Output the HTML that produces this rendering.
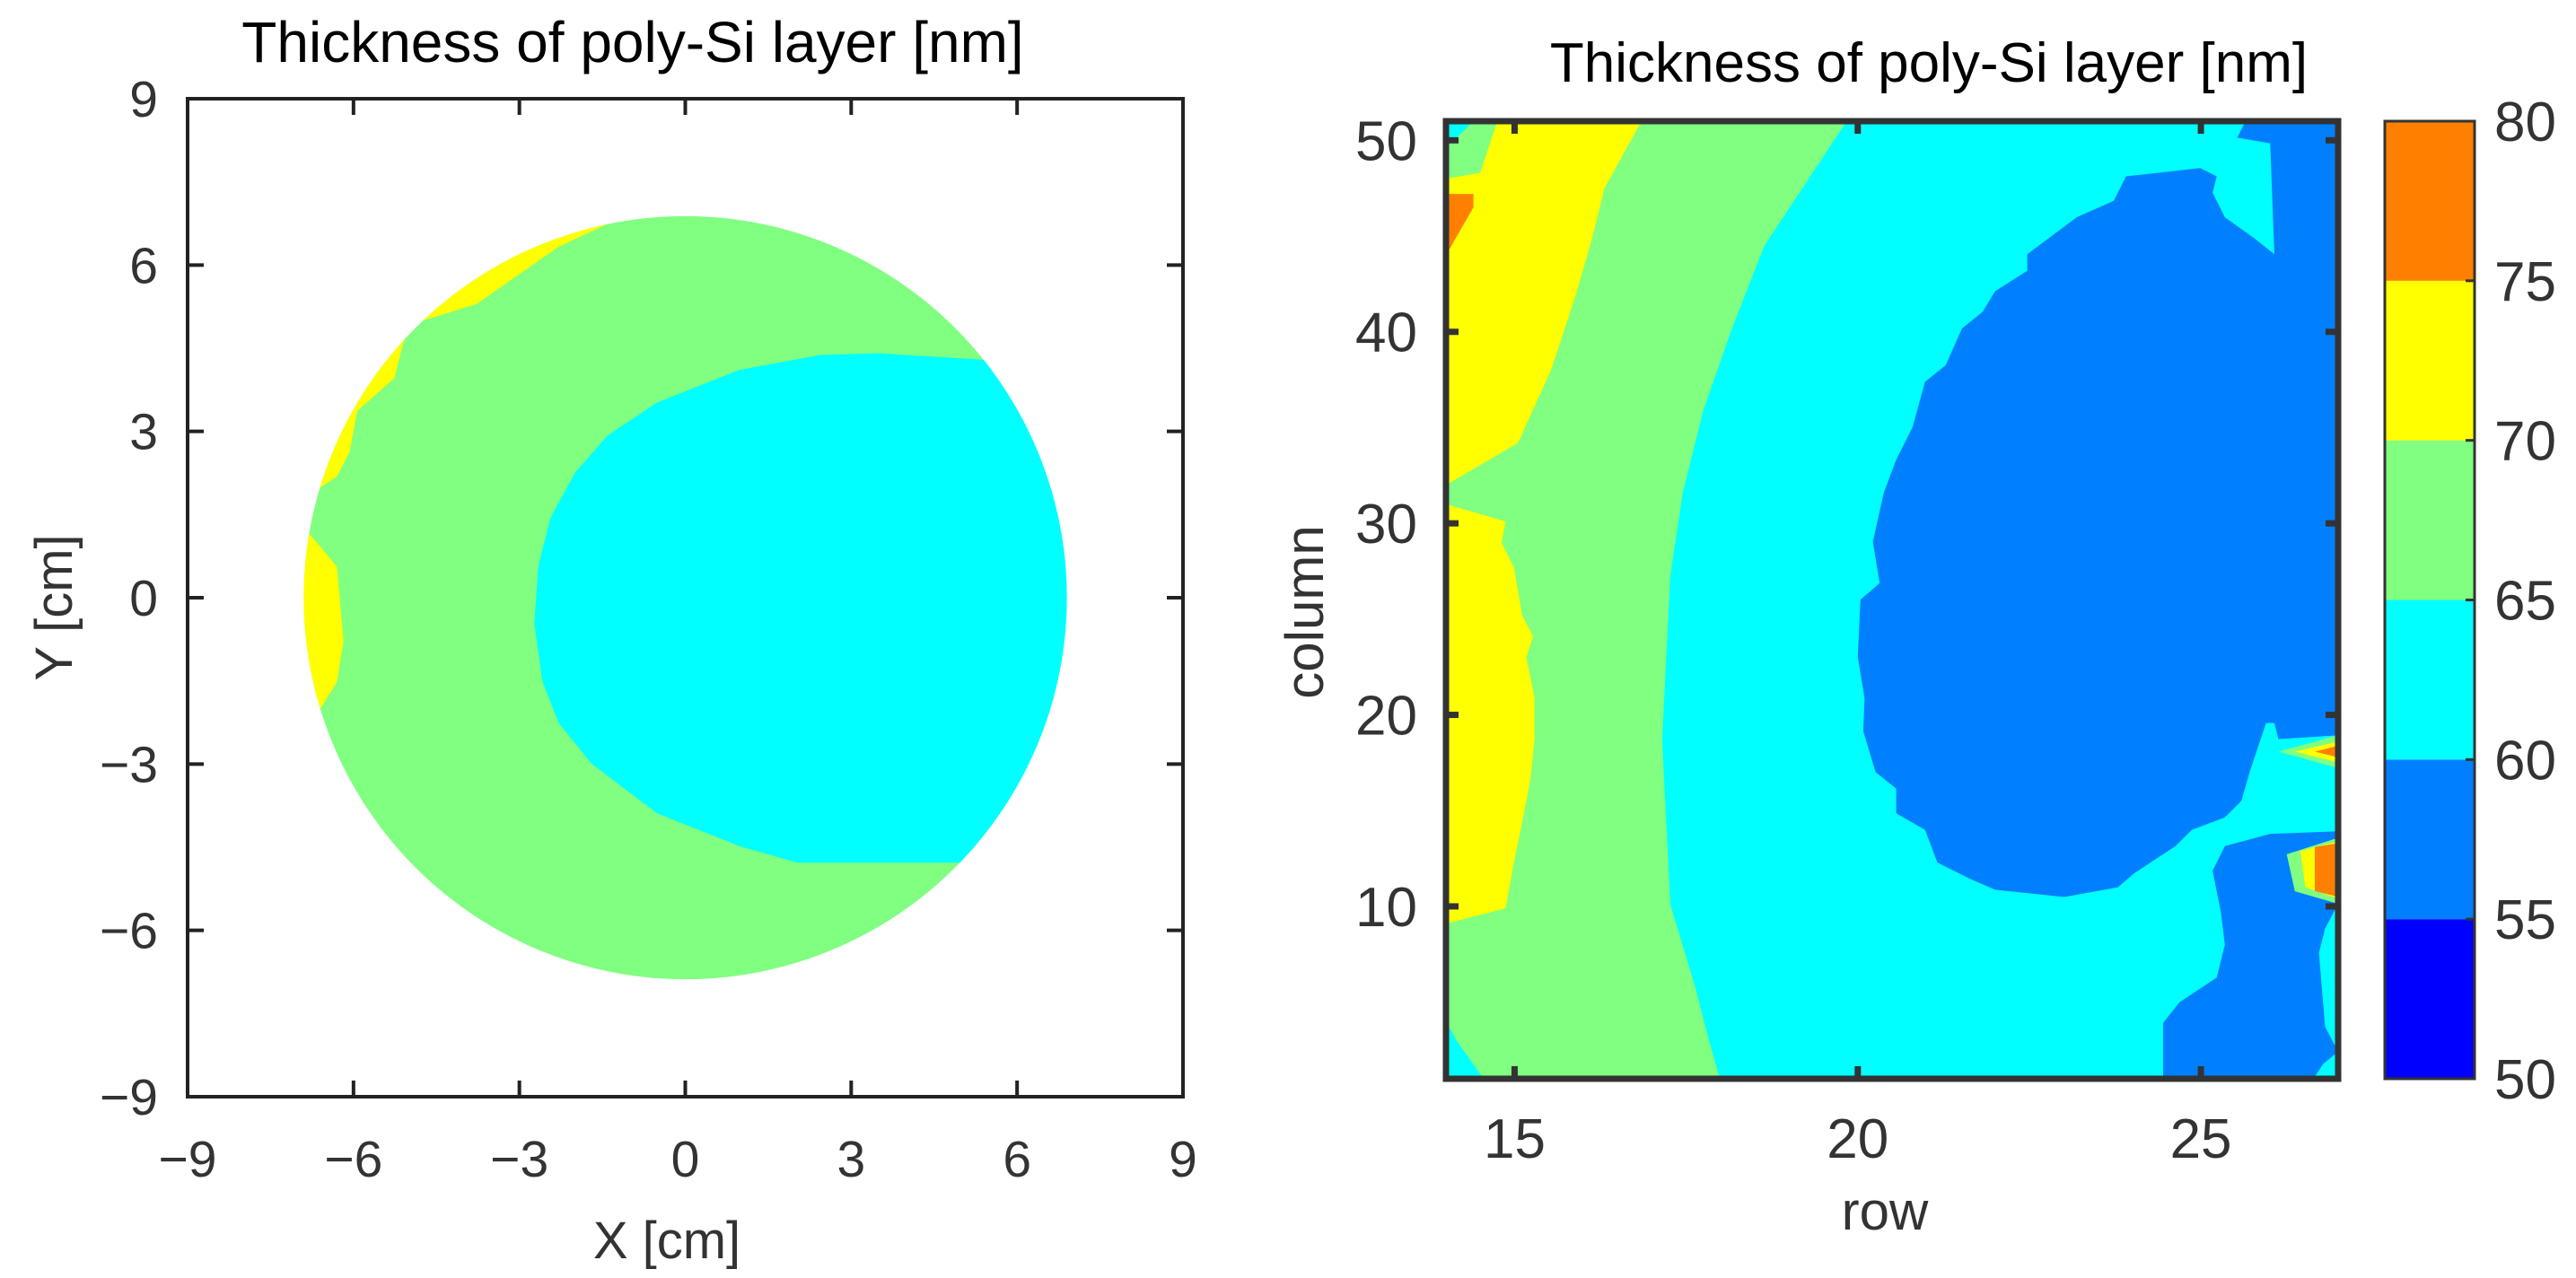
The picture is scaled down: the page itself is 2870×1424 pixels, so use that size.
<!DOCTYPE html>
<html><head><meta charset="utf-8"><style>
html,body{margin:0;padding:0;background:#fff;}
svg{display:block;font-family:"Liberation Sans",sans-serif;}
</style></head><body>
<svg id="s" width="2870" height="1424" viewBox="0 0 2870 1424">
<g id="left"></g>
<g id="right"></g>
</svg>
<script>
// ---------- LEFT CHART DATA (cm) ----------
const leftTicks = [-9,-6,-3,0,3,6,9];
const waferRadius = [6.9];
const cyanRegion = [[5.44,4.29],[3.50,4.41],[2.46,4.38],[0.98,4.11],[-0.51,3.52],[-1.40,2.93],[-1.99,2.26],[-2.44,1.44],[-2.66,0.56],[-2.73,-0.48],[-2.58,-1.52],[-2.29,-2.26],[-1.69,-3.0],[-0.51,-3.89],[0.98,-4.48],[2.02,-4.78],[4.99,-4.78],[9,-4.78],[9,4.29]];
const yellowTop = [[-1.17,6.85],[-2.29,6.33],[-3.77,5.30],[-4.96,4.93],[-5.11,4.56],[-5.26,3.96],[-5.93,3.37],[-6.07,2.63],[-6.30,2.19],[-6.74,1.89],[-9,1.89],[-9,9],[-1.17,9]];
const yellowLeft = [[-9,1.4],[-6.92,1.30],[-6.30,0.56],[-6.18,-0.78],[-6.30,-1.52],[-6.67,-2.11],[-9,-2.11]];

// ---------- RIGHT CHART DATA (row, column) ----------
const rowTicks = [15,20,25];
const colTicks = [10,20,30,40,50];
const cbTicks = [50,55,60,65,70,75,80];
const cbColors = ['#0000FF','#0080FF','#00FFFF','#80FF80','#FFFF00','#FF8000'];
const greenCyanBoundary = [[19.84,51],[18.64,44.5],[18.17,40.2],[17.75,35.9],[17.45,31.6],[17.27,27.3],[17.21,23.0],[17.15,18.7],[17.21,14.4],[17.27,10.1],[17.63,5.8],[17.81,3.3],[17.99,1]];
const yellowUpper = [[14.75,51],[16.85,51],[16.31,47.5],[16.13,44.9],[15.89,41.9],[15.53,38.0],[15.05,34.2],[14,32],[14,48],[14.5,48.3]];
const orangeTopLeft = [[14,44],[14.4,46.5],[14.4,47.2],[14,47.2]];
const yellowLower = [[14,31],[14.87,30.1],[14.81,29.0],[14.99,27.7],[15.11,25.2],[15.27,24.1],[15.17,23.0],[15.29,20.9],[15.29,18.7],[15.23,16.6],[15.11,14.4],[14.99,12.3],[14.87,9.9],[14,9.1]];
const cyanTopLeft = [[14,51],[14.4,51],[14,49.6]];
const cyanBottomLeft = [[14,4],[14.15,3],[14.55,1],[14,1]];
const blueBlob = [[25.65,51],[25.53,50.14],[26.01,49.84],[26.07,44.05],[25.77,44.91],[25.35,45.98],[25.17,47.27],[25.23,48.12],[24.99,48.55],[23.91,48.12],[23.73,46.84],[23.19,45.98],[22.47,44.05],[22.47,43.19],[22.00,42.12],[21.82,41.04],[21.52,40.18],[21.28,38.25],[20.98,37.39],[20.80,35.03],[20.56,33.32],[20.38,31.60],[20.22,29.03],[20.32,26.88],[20.04,26.02],[20.00,23.02],[20.10,20.87],[20.08,19.15],[20.26,17.01],[20.56,16.15],[20.56,14.86],[20.98,14.00],[21.16,12.29],[21.64,11.43],[22.00,10.87],[23.01,10.49],[23.79,11.00],[24.03,11.73],[24.63,13.15],[24.87,14.00],[25.35,14.65],[25.59,15.51],[25.71,17.01],[25.95,19.58],[26.07,19.58],[26.13,18.73],[27,18.94],[27,51]];
const blueLower = [[26.01,13.79],[27,13.92],[27,10.14],[26.81,8.85],[26.72,7.57],[26.81,3.70],[27,2.42],[26.78,1.77],[26.64,1],[24.45,1],[24.45,3.92],[24.69,5.0],[25.23,6.28],[25.35,8.0],[25.29,9.71],[25.17,11.86],[25.35,13.15]];
const spike1Green = [[26.13,18.08],[27,18.94],[27,17.22]];
const spike1Yellow = [[26.37,18.08],[27,18.6],[27,17.52]];
const spike1Orange = [[26.66,18.08],[27,18.39],[27,17.78]];
const spike2Green = [[26.25,12.72],[27,13.58],[27,10.14],[26.37,10.79]];
const spike2Yellow = [[26.45,12.9],[27,13.4],[27,10.4],[26.52,11.0]];
const spike2Orange = [[26.66,13.1],[27,13.3],[27,10.5],[26.66,10.8]];

const NS='http://www.w3.org/2000/svg';
function mk(tag, attrs, parent){const e=document.createElementNS(NS,tag);for(const k in attrs)e.setAttribute(k,attrs[k]);parent.appendChild(e);return e;}

// ---------- LEFT ----------
const L=document.getElementById('left');
const lx0=209,lx1=1318,ly0=110,ly1=1222;
const LX=v=>lx0+(v+9)/18*(lx1-lx0);
const LY=v=>ly1-(v+9)/18*(ly1-ly0);
const lpts=a=>a.map(p=>LX(p[0]).toFixed(1)+','+LY(p[1]).toFixed(1)).join(' ');
const defs=mk('defs',{},L);
const cp=mk('clipPath',{id:'wclip'},defs);
mk('circle',{cx:LX(0),cy:LY(0),r:LX(waferRadius[0])-LX(0)},cp);
const wafer=mk('circle',{cx:LX(0),cy:LY(0),r:LX(waferRadius[0])-LX(0),fill:'#80FF80'},L);


const wg=mk('g',{'clip-path':'url(#wclip)'},L);


let e;
e=mk('polygon',{points:lpts(cyanRegion),fill:'#00FFFF'},wg);


e=mk('polygon',{points:lpts(yellowTop),fill:'#FFFF00'},wg);


e=mk('polygon',{points:lpts(yellowLeft),fill:'#FFFF00'},wg);


e=mk('rect',{x:lx0,y:ly0,width:lx1-lx0,height:ly1-ly0,fill:'none',stroke:'#222',"stroke-width":4},L);


leftTicks.forEach(t=>{
  const x=LX(t),y=LY(t);
  mk('line',{x1:x,y1:ly1,x2:x,y2:ly1-18,stroke:'#222','stroke-width':4},L);
  mk('line',{x1:x,y1:ly0,x2:x,y2:ly0+18,stroke:'#222','stroke-width':4},L);
  mk('line',{x1:lx0,y1:y,x2:lx0+18,y2:y,stroke:'#222','stroke-width':4},L);
  mk('line',{x1:lx1,y1:y,x2:lx1-18,y2:y,stroke:'#222','stroke-width':4},L);
  const lab=(t<0?'\u2212'+(-t):''+t);
  const tx=mk('text',{x:x,y:1311,'font-size':57,fill:'#333','text-anchor':'middle'},L);tx.textContent=lab;
  
  
  const ty=mk('text',{x:176,y:y+20,'font-size':57,fill:'#333','text-anchor':'end'},L);ty.textContent=lab;
  
  
});
</script>
<script>
// ---------- RIGHT ----------
const R=document.getElementById('right');
const rx0=1611,rx1=2605,ry0=135,ry1=1202;
const RX=v=>rx0+(v-14)/13*(rx1-rx0);
const RY=v=>ry1-(v-1)/50*(ry1-ry0);
const rpts=a=>a.map(p=>RX(p[0]).toFixed(1)+','+RY(p[1]).toFixed(1)).join(' ');
function poly(arr,fill,name){const p=mk('polygon',{points:rpts(arr),fill:fill},R);return p;}
let r=mk('rect',{x:rx0,y:ry0,width:rx1-rx0,height:ry1-ry0,fill:'#00FFFF'},R);


let gpoly=[[14,51]].concat(greenCyanBoundary).concat([[14,1]]);
r=poly(gpoly,'#80FF80','green-band');

r=poly(yellowUpper,'#FFFF00','yellow-upper');

r=poly(orangeTopLeft,'#FF8000','orange-top-left');

r=poly(yellowLower,'#FFFF00','yellow-lower');

r=poly(cyanTopLeft,'#00FFFF','cyan-top-left');

r=poly(cyanBottomLeft,'#00FFFF','cyan-bottom-left');

r=poly(blueBlob,'#0080FF','blue-blob');

r=poly(blueLower,'#0080FF','blue-lower');

r=poly(spike1Green,'#80FF80','spike1-green');

r=poly(spike1Yellow,'#FFFF00','spike1-yellow');

r=poly(spike1Orange,'#FF8000','spike1-orange');

r=poly(spike2Green,'#80FF80','spike2-green');

r=poly(spike2Yellow,'#FFFF00','spike2-yellow');

r=poly(spike2Orange,'#FF8000','spike2-orange');

r=mk('rect',{x:rx0,y:ry0,width:rx1-rx0,height:ry1-ry0,fill:'none',stroke:'#333','stroke-width':7},R);


rowTicks.forEach(t=>{
  const x=RX(t);
  mk('line',{x1:x,y1:ry1,x2:x,y2:ry1-14,stroke:'#333','stroke-width':7},R);
  mk('line',{x1:x,y1:ry0,x2:x,y2:ry0+14,stroke:'#333','stroke-width':7},R);
  const tx=mk('text',{x:x,y:1290,'font-size':62,fill:'#333','text-anchor':'middle'},R);tx.textContent=t;
  
  
});
colTicks.forEach(t=>{
  const y=RY(t);
  mk('line',{x1:rx0,y1:y,x2:rx0+14,y2:y,stroke:'#333','stroke-width':7},R);
  mk('line',{x1:rx1,y1:y,x2:rx1-14,y2:y,stroke:'#333','stroke-width':7},R);
  const ty=mk('text',{x:1579,y:y+22,'font-size':62,fill:'#333','text-anchor':'end'},R);ty.textContent=t;
  
  
});
// colorbar
const cx0=2657,cx1=2757;
const CY=v=>ry1-(v-50)/30*(ry1-ry0);
cbColors.forEach((c,i)=>{
  const b=mk('rect',{x:cx0,y:CY(cbTicks[i+1]),width:cx1-cx0,height:CY(cbTicks[i])-CY(cbTicks[i+1]),fill:c},R);
  
  
});
r=mk('rect',{x:cx0,y:ry0,width:cx1-cx0,height:ry1-ry0,fill:'none',stroke:'#333','stroke-width':3},R);


cbTicks.forEach(t=>{
  const y=CY(t);
  mk('line',{x1:cx1,y1:y,x2:cx1-10,y2:y,stroke:'#333','stroke-width':3},R);
  const tl=mk('text',{x:2779,y:y+22,'font-size':62,fill:'#333'},R);tl.textContent=t;
  
  
});
</script>
<svg style="position:absolute;left:0;top:0" width="2870" height="1424">
<text x="705" y="69" font-size="64" text-anchor="middle" fill="#000" font-family="Liberation Sans, sans-serif">Thickness of poly-Si layer [nm]</text>
<text x="743" y="1402" font-size="58" text-anchor="middle" fill="#333" font-family="Liberation Sans, sans-serif">X [cm]</text>
<text x="0" y="0" font-size="58" text-anchor="middle" fill="#333" font-family="Liberation Sans, sans-serif" transform="translate(80,677) rotate(-90)">Y [cm]</text>
<text x="2149" y="91" font-size="62" text-anchor="middle" fill="#000" font-family="Liberation Sans, sans-serif">Thickness of poly-Si layer [nm]</text>
<text x="2100" y="1370" font-size="60" text-anchor="middle" fill="#333" font-family="Liberation Sans, sans-serif">row</text>
<text x="0" y="0" font-size="60" text-anchor="middle" fill="#333" font-family="Liberation Sans, sans-serif" transform="translate(1474,682) rotate(-90)">column</text>
</svg>
</body></html>
